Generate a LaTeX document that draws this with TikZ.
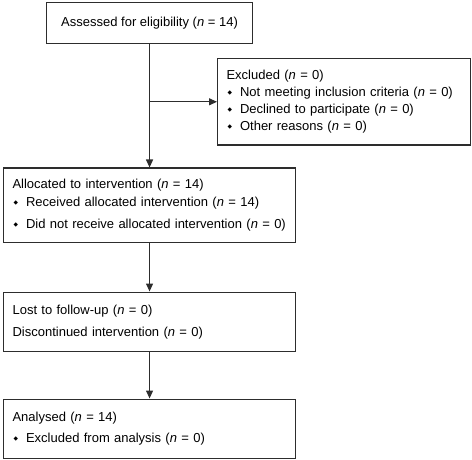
\documentclass[tikz,border=0pt]{standalone}
\usepackage{fontspec}
\setmainfont{Liberation Sans}
\newfontfamily\symfont{DejaVu Sans}
\usetikzlibrary{arrows.meta}
\definecolor{lineA}{RGB}{45, 45, 45}
\newcommand{\itm}{\makebox[13.5pt][l]{\hspace{1pt}\raisebox{2pt}{\symfont\fontsize{5.8}{5.8}\selectfont ◆}}}
\newcommand{\nn}{\textit{n}}

\begin{document}
\begin{tikzpicture}[x=1pt, y=-1pt,
  box/.style={draw=lineA, line width=1.1pt, anchor=north west, align=left, inner xsep=9pt, inner ysep=0pt, font=\fontsize{13}{17}\selectfont},
  arr/.style={draw=lineA, line width=1.1pt, -{Triangle[length=8pt, width=7pt]}}]
  \useasboundingbox (0,0) rectangle (472,460);

  \node[box, align=center, minimum width=206pt, minimum height=41pt] (assess) at (46,2) {Assessed for eligibility (\nn{} = 14)};
  \node[box, text width=235pt, minimum height=86.5pt, inner xsep=9pt] (excl) at (217,58)
    {Excluded (\nn{} = 0)\\
     \itm Not meeting inclusion criteria (\nn{} = 0)\\
     \itm Declined to participate (\nn{} = 0)\\
     \itm Other reasons (\nn{} = 0)};
  \node[box, text width=274pt, minimum height=74pt] (alloc) at (3,167.5)
    {Allocated to intervention (\nn{} = 14)\\[1.4pt]
     \itm Received allocated intervention (\nn{} = 14)\\[4.3pt]
     \itm Did not receive allocated intervention (\nn{} = 0)};
  \node[box, text width=274pt, minimum height=59.5pt] (lost) at (3,291.5)
    {Lost to follow-up (\nn{} = 0)\\[4.7pt]
     Discontinued intervention (\nn{} = 0)};
  \node[box, text width=274pt, minimum height=59.5pt] (anal) at (3,398.5)
    {Analysed (\nn{} = 14)\\[4.6pt]
     \itm Excluded from analysis (\nn{} = 0)};

  \coordinate (split) at (assess.south |- excl.west);
  \path[arr] (assess.south) -- (alloc.north);
  \path[arr] (split) -- (excl.west);
  \path[arr] (alloc.south) -- (lost.north);
  \path[arr] (lost.south) -- (anal.north);

\end{tikzpicture}
\end{document}
